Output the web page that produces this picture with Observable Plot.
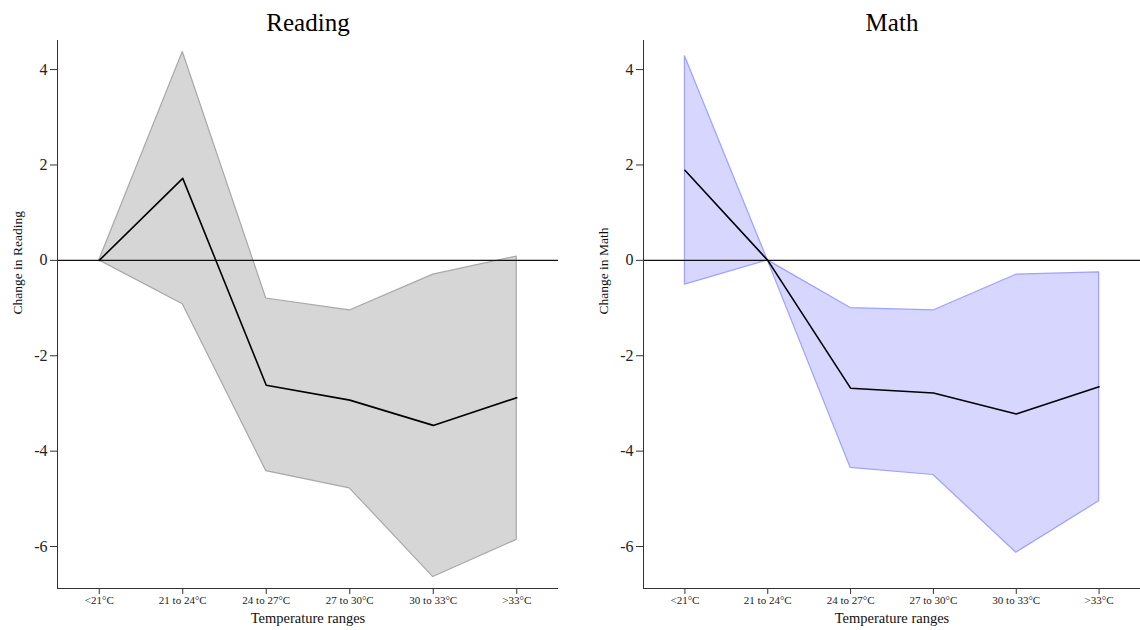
<!DOCTYPE html>
<html>
<head>
<meta charset="utf-8">
<script src="https://cdn.jsdelivr.net/npm/d3@7"></script>
<script src="https://cdn.jsdelivr.net/npm/@observablehq/plot@0.6"></script>
<style>
  html, body { margin: 0; padding: 0; background: #fff; }
  #wrap { display: flex; width: 1140px; height: 630px; }
  svg { font-family: "Liberation Serif", "Times New Roman", serif; }
</style>
</head>
<body>
<div id="wrap"></div>
<script>
const categories = ["<21°C", "21 to 24°C", "24 to 27°C", "27 to 30°C", "30 to 33°C", ">33°C"];

const readingMean  = [0, 1.72, -2.62, -2.93, -3.46, -2.88];
const readingUpper = [0, 4.37, -0.80, -1.05, -0.30, 0.08];
const readingLower = [0, -0.92, -4.42, -4.78, -6.64, -5.86];

const mathMean  = [1.89, 0, -2.68, -2.78, -3.22, -2.65];
const mathUpper = [4.28, 0, -1.00, -1.05, -0.30, -0.25];
const mathLower = [-0.51, 0, -4.35, -4.50, -6.13, -5.05];

const yTicks = [-6, -4, -2, 0, 2, 4];
const yDomain = [-6.88, 4.61];

function panel({title, ylabel, mean, upper, lower, fill, stroke, width, marginLeft, marginRight}) {
  const rows = categories.map((c, i) => ({i, c, mean: mean[i], upper: upper[i], lower: lower[i]}));
  return Plot.plot({
    width, height: 630,
    marginLeft, marginRight, marginTop: 40, marginBottom: 42,
    style: {fontFamily: '"Liberation Serif", "Times New Roman", serif', color: "#222", background: "#fff"},
    x: {type: "linear", domain: [-0.5, categories.length - 0.5]},
    y: {domain: yDomain},
    marks: [
      Plot.areaY(rows, {x: "i", y1: "lower", y2: "upper", fill, stroke, strokeWidth: 1.2, curve: "linear"}),
      Plot.ruleY([0], {stroke: "#111", strokeWidth: 1.2}),
      Plot.lineY(rows, {x: "i", y: "mean", stroke: "#000", strokeWidth: 1.6}),
      Plot.ruleX([-0.5], {stroke: "#333", strokeWidth: 1}),
      Plot.ruleY([yDomain[0]], {stroke: "#333", strokeWidth: 1}),
      Plot.axisY({ticks: yTicks, tickFormat: d => String(d), tickSize: 7, tickPadding: 3, fontSize: 16, label: null, stroke: "#333"}),
      Plot.axisX({ticks: categories.map((c, i) => i), tickFormat: i => categories[i], tickSize: 6, tickPadding: 2, fontSize: 11, label: null, stroke: "#333"}),
      Plot.text([title], {frameAnchor: "top", lineAnchor: "middle", dy: -18, fontSize: 25, fill: "#000"}),
      Plot.text([ylabel], {frameAnchor: "left", lineAnchor: "middle", dx: -40, rotate: -90, fontSize: 13.5, fill: "#111"}),
      Plot.text(["Temperature ranges"], {frameAnchor: "bottom", lineAnchor: "middle", dy: 30, fontSize: 14.5, fill: "#111"})
    ]
  });
}

const wrap = document.getElementById("wrap");
wrap.appendChild(panel({
  title: "Reading", ylabel: "Change in Reading",
  mean: readingMean, upper: readingUpper, lower: readingLower,
  fill: "#d6d6d6", stroke: "#a8a8a8", width: 570, marginLeft: 57, marginRight: 12
}));
wrap.appendChild(panel({
  title: "Math", ylabel: "Change in Math",
  mean: mathMean, upper: mathUpper, lower: mathLower,
  fill: "#d6d6ff", stroke: "#a0a0ff", width: 570, marginLeft: 73, marginRight: 0
}));
</script>
</body>
</html>
